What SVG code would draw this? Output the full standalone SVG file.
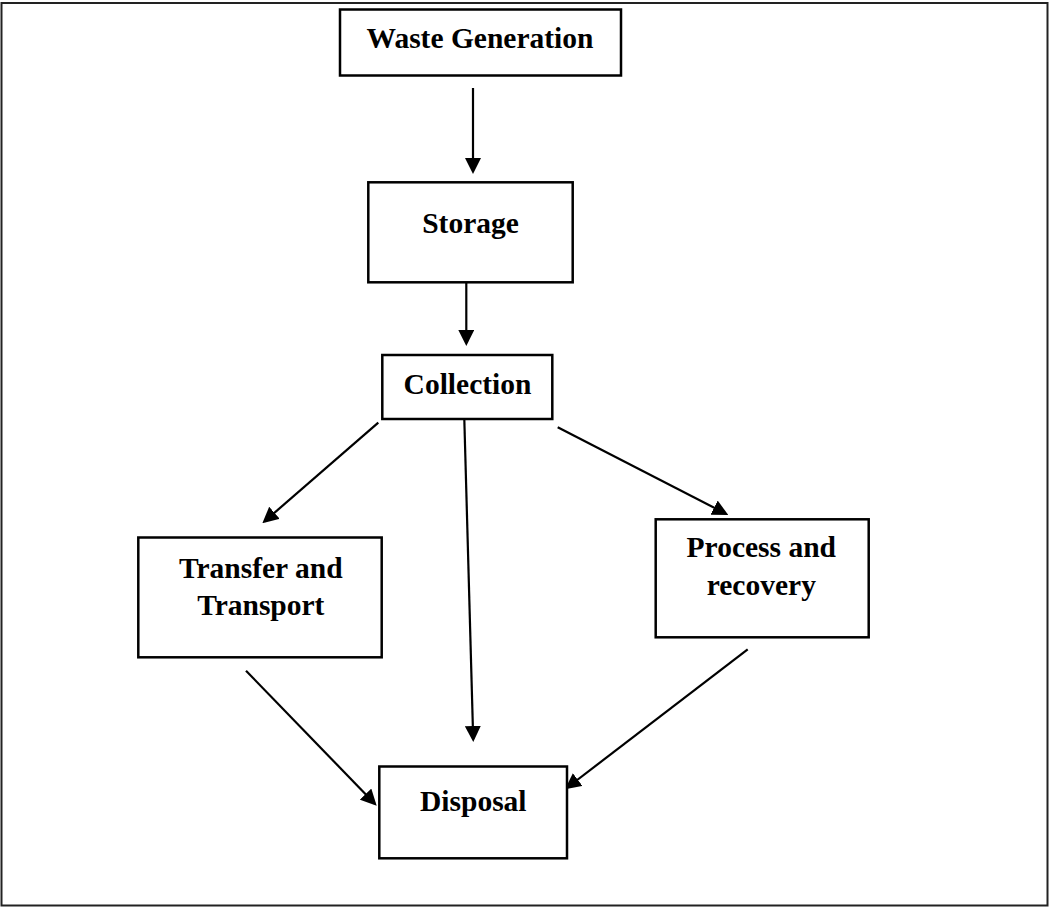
<svg xmlns="http://www.w3.org/2000/svg" width="1049" height="907" viewBox="0 0 1049 907">
  <style>
    .box { fill: #ffffff; stroke: #000000; stroke-width: 2.5; }
    .lbl { font-family: "Liberation Serif", "Times New Roman", serif; font-weight: bold; font-size: 29.5px; fill: #000000; text-anchor: middle; }
    .conn { stroke: #000000; stroke-width: 2.2; fill: none; marker-end: url(#arrow); }
  </style>
  <defs>
    <marker id="arrow" markerUnits="userSpaceOnUse" markerWidth="16" markerHeight="16" refX="13" refY="8" orient="auto" viewBox="0 0 16 16">
      <path d="M0,0 L16,8 L0,16 Z" fill="#000000"/>
    </marker>
  </defs>
  <rect x="0" y="0" width="1049" height="907" fill="#ffffff"/>
  <rect id="frame" x="1.5" y="3" width="1046" height="902.5" fill="none" stroke="#222222" stroke-width="2"/>

  <g id="connectors">
    <line class="conn" x1="473" y1="88" x2="473" y2="171"/>
    <line class="conn" x1="466.3" y1="282" x2="466.3" y2="343"/>
    <line class="conn" x1="378.3" y1="422.7" x2="264.6" y2="521.3"/>
    <line class="conn" x1="557.7" y1="427.3" x2="725.6" y2="513.6"/>
    <line class="conn" x1="464.3" y1="419" x2="473.2" y2="739"/>
    <line class="conn" x1="246" y1="670.7" x2="374.6" y2="803.5"/>
    <line class="conn" x1="747.7" y1="649.3" x2="567.4" y2="787.5"/>
  </g>

  <g id="waste-generation">
    <rect class="box" x="340" y="9.5" width="281" height="66"/>
    <text class="lbl" x="480" y="48">Waste Generation</text>
  </g>
  <g id="storage">
    <rect class="box" x="368.3" y="182.3" width="204.4" height="100"/>
    <text class="lbl" x="470.5" y="232.5">Storage</text>
  </g>
  <g id="collection">
    <rect class="box" x="382.3" y="355" width="170" height="64"/>
    <text class="lbl" x="467.5" y="393.5">Collection</text>
  </g>
  <g id="transfer-transport">
    <rect class="box" x="138.3" y="537.5" width="243.4" height="119.8"/>
    <text class="lbl" x="260.8" y="577.5">Transfer and</text>
    <text class="lbl" x="260.8" y="615.3">Transport</text>
  </g>
  <g id="process-recovery">
    <rect class="box" x="655.7" y="519.3" width="213" height="118"/>
    <text class="lbl" x="761.3" y="557">Process and</text>
    <text class="lbl" x="761.3" y="595.3">recovery</text>
  </g>
  <g id="disposal">
    <rect class="box" x="379.3" y="766.5" width="187.7" height="91.8"/>
    <text class="lbl" x="473.3" y="811">Disposal</text>
  </g>
</svg>
